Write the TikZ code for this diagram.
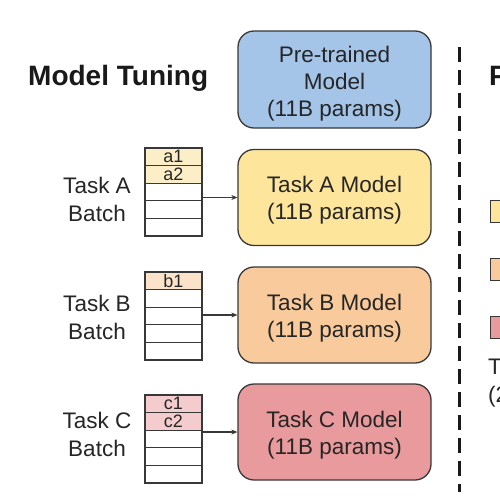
\documentclass[tikz,border=0pt]{standalone}
\usepackage{fontspec}
\setmainfont{Liberation Sans}
\usetikzlibrary{arrows.meta}
\definecolor{edge}{HTML}{383838}
\definecolor{bluef}{HTML}{A4C4E8}
\definecolor{yelf}{HTML}{FEE59C}
\definecolor{oraf}{HTML}{F9CB9C}
\definecolor{redf}{HTML}{E99A9C}
\definecolor{yelr}{HTML}{FCEFC8}
\definecolor{orar}{HTML}{FBE3CA}
\definecolor{redr}{HTML}{F4CCCD}
\tikzset{
  modelbox/.style={draw=edge, line width=1.3pt, rounded corners=16pt,
    minimum width=193pt, minimum height=96pt, inner sep=0pt},
  boxtext/.style={align=center, inner sep=0pt,
    font=\fontsize{22.5}{27}\selectfont, text=black!85},
  rowbox/.style={draw=edge, line width=1.3pt, minimum width=57pt,
    minimum height=17.6pt, inner sep=0pt, fill=white,
    font=\fontsize{18}{18}\selectfont, text=black!85},
  lbl/.style={align=center, font=\fontsize{22.5}{28}\selectfont, text=black!85},
  ttl/.style={font=\fontsize{28}{32}\selectfont\bfseries, text=black!90},
  arr/.style={-{Stealth[length=6pt,width=5pt]}, line width=1.1pt, draw=edge},
  sq/.style={draw=edge, line width=1.3pt, minimum size=22pt, inner sep=0pt}
}
\begin{document}
\begin{tikzpicture}[x=1pt,y=-1pt]
\useasboundingbox (0,0) rectangle (500,501);
\clip (0,0) rectangle (500,501);
\fill[white] (0,0) rectangle (500,501);

% title
\node[ttl, anchor=base west, inner sep=0pt] (title) at (28,85) {Model Tuning};

% model boxes
\node[modelbox, fill=bluef, minimum height=97pt] (pt) at (334.5,79.5) {};
\node[boxtext] (ptt) at ([yshift=-4pt]pt.center) {Pre-trained\\Model\\(11B params)};
\node[modelbox, fill=yelf] (ma) at (334.5,197.5) {};
\node[boxtext] (mat) at ([yshift=-3pt]ma.center) {Task A Model\\(11B params)};
\node[modelbox, fill=oraf] (mb) at (334.5,315) {};
\node[boxtext] (mbt) at ([yshift=-3pt]mb.center) {Task B Model\\(11B params)};
\node[modelbox, fill=redf] (mc) at (334.5,432) {};
\node[boxtext] (mct) at ([yshift=-3pt]mc.center) {Task C Model\\(11B params)};

% batch stacks
\foreach \i in {1,...,5} {
  \node[rowbox] (sa\i) at (173.5,{148+8.8+(\i-1)*17.6}) {};
  \node[rowbox] (sb\i) at (173.5,{272+8.8+(\i-1)*17.6}) {};
  \node[rowbox] (sc\i) at (173.5,{395+8.8+(\i-1)*17.6}) {};
}
\node[rowbox, fill=yelr] (sa1t) at (sa1) {a1};
\node[rowbox, fill=yelr] (sa2t) at (sa2) {a2};
\node[rowbox, fill=orar] (sb1t) at (sb1) {b1};
\node[rowbox, fill=redr] (sc1t) at (sc1) {c1};
\node[rowbox, fill=redr] (sc2t) at (sc2) {c2};

% labels
\node[lbl] (la) at (97,199) {Task A\\Batch};
\node[lbl] (lb) at (97,317) {Task B\\Batch};
\node[lbl] (lc) at (97,434) {Task C\\Batch};

% arrows
\draw[arr] (sa3.east |- ma.west) -- (ma.west);
\draw[arr] (sb3.east |- mb.west) -- (mb.west);
\draw[arr] (sc3.east |- mc.west) -- (mc.west);

% divider
\coordinate (dtop) at (459,47);
\coordinate (dbot) at (459,492);
\draw[line width=3pt, draw=black!90, dash pattern=on 15pt off 8pt] (dtop) -- (dbot);

% right side (cut off at the picture's edge, as in the reference)
\node[ttl, anchor=base west, inner sep=0pt] (title2) at (489,85) {Prompt Tuning};
\node[sq, fill=yelf, anchor=north west] (pa) at (490,200) {};
\node[sq, fill=oraf, anchor=north west] (pb) at (490,258) {};
\node[sq, fill=redf, anchor=north west] (pc) at (490,316) {};
\node[lbl, anchor=base west, inner sep=0pt] (tp1) at (488,374) {Task Prompts};
\node[lbl, anchor=base west, inner sep=0pt] (tp2) at (488,402) {(20K params each)};
\end{tikzpicture}
\end{document}
